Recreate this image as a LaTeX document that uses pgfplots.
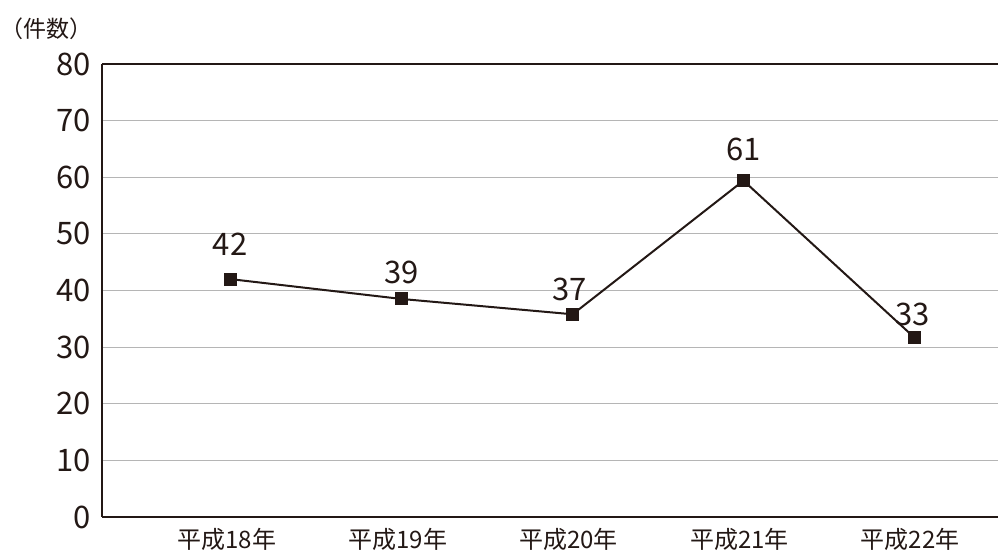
\documentclass[border=0pt]{standalone}
\usepackage{pgfplots}
\pgfplotsset{compat=1.18}
\usepackage{fontspec}
\setmainfont{Noto Sans CJK JP}
\definecolor{ink}{HTML}{231815}
\definecolor{gridc}{HTML}{B5B5B5}
\begin{document}
\begin{tikzpicture}[x=1pt,y=1pt]
\path[use as bounding box] (0,0) rectangle (998,559);
\node[text=ink,font=\fontsize{23}{23}\selectfont,anchor=center,inner sep=0pt] at (47,530) {（件数）};
\begin{axis}[
  at={(102pt,42pt)}, anchor=south west,
  scale only axis, width=896pt, height=453pt,
  xmin=-0.755, xmax=4.49, ymin=0, ymax=80,
  axis line style={draw=none},
  xtick={0,1,2,3,4},
  xticklabels={平成18年,平成19年,平成20年,平成21年,平成22年},
  ytick={0,10,...,80},
  major tick length=0pt,
  ymajorgrids, grid style={gridc, line width=1pt},
  tick label style={text=ink},
  xticklabel style={font=\fontsize{24}{24}\selectfont, yshift=-8pt, xshift=-4pt},
  yticklabel style={font=\fontsize{31}{31}\selectfont, xshift=-8pt},
  /pgf/number format/assume math mode=true,
  clip=false,
]
\addplot[ink, line width=2pt, mark=square*, mark size=6pt, mark options={solid, fill=ink, line width=0pt}]
  coordinates {(0,42.0) (1,38.5) (2,35.8) (3,59.4) (4,31.7)};
\addplot[draw=none, mark=none, nodes near coords, point meta=explicit symbolic,
  every node near coord/.style={anchor=base, font=\fontsize{31}{31}\selectfont, text=ink, inner sep=0pt}]
  coordinates {(-0.005,46.1)[42] (1.0,41.3)[39] (1.98,38.3)[37] (3.0,63.0)[61] (3.99,33.9)[33]};
\draw[ink, line width=2pt] (axis cs:-0.755,80) -- (axis cs:4.49,80);
\draw[ink, line width=2pt] (axis cs:-0.755,0) -- (axis cs:4.49,0);
\draw[ink, line width=2pt] (axis cs:-0.755,0) -- (axis cs:-0.755,80);
\end{axis}
\end{tikzpicture}
\end{document}
